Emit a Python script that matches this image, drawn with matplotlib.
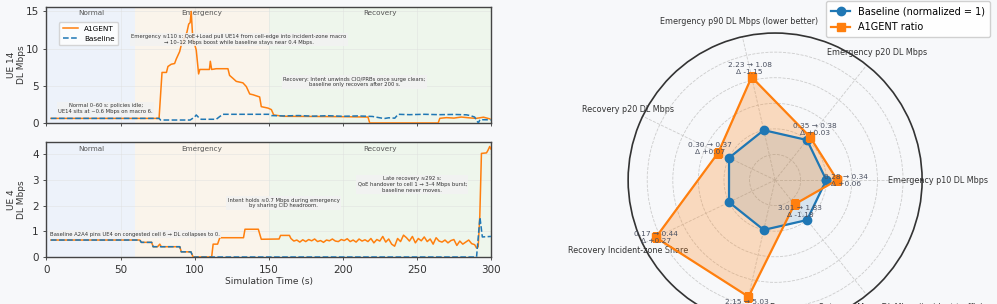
import matplotlib.pyplot as plt
import numpy as np

# ---- time series (UE 14) ----
t14_a1 = [3, 76, 78, 81, 82, 84.2, 86.5, 87.6, 89.9, 91, 92, 93.2, 94.8, 96, 97, 97.7, 98.8, 100,
          101.1, 102.7, 103.5, 110, 110.6, 111.5, 114.6, 122.5, 123.6, 125.9, 128.1, 132.6, 134.9,
          137.2, 139.4, 143.9, 145, 149.6, 151.8, 153.4, 160, 180, 200, 217, 218.2, 264.4, 265.5,
          270, 275, 280, 285, 290, 295, 299.3]
v14_a1 = [0.62, 0.62, 6.8, 6.8, 7.6, 7.9, 8.0, 8.6, 9.6, 10.5, 10.9, 11.5, 12.2, 13.3, 13.5, 15.0, 11.2, 10.6,
          9.8, 6.6, 7.2, 7.2, 8.3, 7.2, 7.3, 7.3, 6.4, 6.0, 5.6, 5.4, 4.9,
          3.9, 3.8, 3.5, 2.2, 2.0, 1.8, 1.08, 0.9, 0.88, 0.85, 0.8, 0.0, 0.0, 0.63,
          0.72, 0.66, 0.8, 0.7, 0.62, 0.78, 0.55]

t14_base = [3, 76, 77, 97, 100, 101.1, 103.4, 104.5, 114.6, 116.9, 119.1, 150, 151.8, 160, 170, 180,
            190, 200, 210, 220, 225, 228, 231, 235.1, 237.4, 245, 255, 265, 275, 283.5, 286, 289,
            291.5, 292.6, 300]
v14_base = [0.62, 0.62, 0.4, 0.4, 0.8, 1.08, 0.6, 0.5, 0.5, 0.86, 1.17, 1.17, 1.0, 0.95, 1.0, 0.92,
            0.98, 0.9, 0.95, 0.88, 0.7, 0.6, 0.7, 0.65, 1.17, 1.12, 1.17, 1.12, 1.15, 1.1, 1.0, 0.8,
            0.0, 0.45, 0.42]

# ---- time series (UE 4) ----
t4_a1 = [3, 63, 64, 71, 72, 75, 76.5, 77.5, 90, 91, 97.5, 99, 111.5, 112.5, 115.5, 117, 133, 134,
         143, 145, 157, 158, 164,
         165, 167, 169, 171, 173, 175, 177, 179, 181, 183, 185, 187, 189, 191, 193, 195, 197, 199,
         201, 203, 205, 207, 209, 211, 213, 215, 217, 219, 221, 223, 225, 227, 229, 231, 233, 235,
         237, 239, 241, 243, 245, 247, 249, 251, 253, 255, 257, 259, 261, 263, 265, 267, 269, 271,
         273, 275, 277, 279, 281, 283, 285, 287, 289,
         290.3, 291.4, 292.5, 293.6, 297, 298, 299.2, 300]
v4_a1 = [0.66, 0.66, 0.57, 0.57, 0.4, 0.4, 0.5, 0.4, 0.4, 0.2, 0.2, 0.0, 0.0, 0.5, 0.5, 0.75, 0.75, 1.08,
         1.08, 0.69, 0.7, 0.84, 0.84,
         0.72, 0.62, 0.66, 0.58, 0.67, 0.6, 0.68, 0.63, 0.7, 0.6, 0.64, 0.57, 0.66, 0.63, 0.7, 0.62, 0.6, 0.68,
         0.64, 0.71, 0.6, 0.66, 0.58, 0.7, 0.62, 0.67, 0.6, 0.72, 0.55, 0.68, 0.62, 0.8, 0.58, 0.7, 0.5, 0.42,
         0.72, 0.6, 0.85, 0.75, 0.62, 0.8, 0.55, 0.72, 0.63, 0.78, 0.6, 0.7, 0.5, 0.75, 0.62, 0.58, 0.66, 0.55,
         0.64, 0.68, 0.45, 0.62, 0.5, 0.58, 0.66, 0.52, 0.48,
         0.35, 0.4, 1.6, 4.03, 4.05, 4.15, 4.3, 4.2]

t4_base = [3, 63, 64, 71, 72, 90, 91, 97.5, 99, 290.3, 292.6, 294.2, 300]
v4_base = [0.66, 0.66, 0.57, 0.57, 0.4, 0.4, 0.2, 0.2, 0.0, 0.0, 1.54, 0.78, 0.8]

phases = ['Normal', 'Emergency', 'Recovery']
phase_bounds = [(0, 60), (60, 150), (150, 300)]
phase_colors = ['#edf2fa', '#faf4eb', '#eef6ec']

# ---- radar metrics ----
metrics = ['Emergency p10 DL Mbps', 'Emergency p20 DL Mbps',
           'Emergency p90 DL Mbps (lower better)', 'Recovery p20 DL Mbps',
           'Recovery Incident-zone Share', 'Recovery Incident-zone Mean DL Mbps',
           'Emergency Out-zone Mean DL Mbps (incident traffic)']
base_vals = [0.28, 0.35, 2.23, 0.30, 0.17, 2.15, 3.01]
a1_vals = [0.34, 0.38, 1.08, 0.37, 0.44, 5.03, 1.83]
lower_better = [False, False, True, False, False, False, False]

BG = '#f7f8fa'
C_A1 = '#ff7f0e'
C_BASE = '#1f77b4'
TXT = '#333333'

fig = plt.figure(figsize=(9.97, 3.04), dpi=100, facecolor=BG)

ax_top = fig.add_axes([0.0466, 0.5954, 0.4458, 0.3816])
ax_bot = fig.add_axes([0.0466, 0.1546, 0.4458, 0.378])

box = dict(boxstyle='square,pad=0.25', fc='#f2f2f2', ec='none', alpha=0.85)


def style_panel(ax, ymax):
    ax.set_facecolor('white')
    for (a, b), c in zip(phase_bounds, phase_colors):
        ax.axvspan(a, b, color=c, zorder=0, lw=0)
    for name, (a, b) in zip(phases, phase_bounds):
        ax.text((a + b) / 2, 0.97, name, transform=ax.get_xaxis_transform(), ha='center', va='top',
                fontsize=5.2, color='#555555')
    ax.set_xlim(0, 300)
    ax.set_ylim(0, ymax)
    ax.grid(True, color='#dddddd', lw=0.5, alpha=0.6)
    ax.set_axisbelow(True)
    for s in ax.spines.values():
        s.set_color('#444444')
        s.set_linewidth(1.0)
    ax.tick_params(labelsize=7.5, length=2, width=0.6, colors=TXT)


# top panel
style_panel(ax_top, 15.6)
ax_top.plot(t14_a1, v14_a1, color=C_A1, lw=1.1, label='A1GENT', zorder=3)
ax_top.plot(t14_base, v14_base, color=C_BASE, lw=1.1, ls='--', label='Baseline', zorder=4)
ax_top.set_xticklabels([])
ax_top.set_yticks([0, 5, 10, 15])
ax_top.set_ylabel('UE 14\nDL Mbps', fontsize=6.5, color=TXT)
ax_top.yaxis.set_label_coords(-0.045, 0.5)
ax_top.legend(loc='upper left', bbox_to_anchor=(0.02, 0.9), fontsize=5.2, frameon=True,
              facecolor='white', edgecolor='#cccccc', handlelength=2.2, borderpad=0.5)
ax_top.text(130, 11.2, 'Emergency ≈110 s: QoE+Load pull UE14 from cell-edge into incident-zone macro\n'
            '→ 10–12 Mbps boost while baseline stays near 0.4 Mbps.',
            ha='center', va='center', fontsize=3.8, color=TXT, bbox=box, zorder=5)
ax_top.text(208, 5.5, 'Recovery: Intent unwinds CIO/PRBs once surge clears;\nbaseline only recovers after 200 s.',
            ha='center', va='center', fontsize=3.8, color=TXT, bbox=box, zorder=5)
ax_top.text(40, 1.9, 'Normal 0–60 s: policies idle;\nUE14 sits at ~0.6 Mbps on macro 6.',
            ha='center', va='center', fontsize=3.8, color=TXT, bbox=box, zorder=5)

# bottom panel
style_panel(ax_bot, 4.47)
ax_bot.plot(t4_a1, v4_a1, color=C_A1, lw=1.1, zorder=3)
ax_bot.plot(t4_base, v4_base, color=C_BASE, lw=1.1, ls='--', zorder=4)
ax_bot.set_yticks([0, 1, 2, 3, 4])
ax_bot.set_xticks([0, 50, 100, 150, 200, 250, 300])
ax_bot.set_ylabel('UE 4\nDL Mbps', fontsize=6.5, color=TXT)
ax_bot.yaxis.set_label_coords(-0.045, 0.5)
ax_bot.set_xlabel('Simulation Time (s)', fontsize=6.5, color=TXT, labelpad=2)
ax_bot.text(59.5, 0.89, 'Baseline A2A4 pins UE4 on congested cell 6 → DL collapses to 0.',
            ha='center', va='center', fontsize=3.8, color=TXT, bbox=box, zorder=5)
ax_bot.text(160, 2.1, 'Intent holds ≈0.7 Mbps during emergency\nby sharing CID headroom.',
            ha='center', va='center', fontsize=3.8, color=TXT, bbox=box, zorder=5)
ax_bot.text(247, 2.83, 'Late recovery ≈292 s:\nQoE handover to cell 1 → 3–4 Mbps burst;\nbaseline never moves.',
            ha='center', va='center', fontsize=3.8, color=TXT, bbox=box, zorder=5)

# ---- radar ----
base_arr = np.array(base_vals)
a1_arr = np.array(a1_vals)
ratios = np.where(lower_better, base_arr / a1_arr, a1_arr / base_arr)
ones = np.ones(len(metrics))
angles = np.linspace(0, 2 * np.pi, len(metrics), endpoint=False)
rmax = ratios.max() * 1.11

axr = fig.add_axes([0.63, -0.0757, 0.2949, 0.967], projection='polar')
axr.set_facecolor(BG)
ang_c = np.append(angles, angles[0])
axr.plot(ang_c, np.append(ones, 1), color=C_BASE, lw=1.6, marker='o', ms=6,
         label='Baseline (normalized = 1)', zorder=4)
axr.fill(ang_c, np.append(ones, 1), color=C_BASE, alpha=0.15, zorder=2)
axr.plot(ang_c, np.append(ratios, ratios[0]), color=C_A1, lw=1.6, marker='s', ms=6,
         label='A1GENT ratio', zorder=5)
axr.fill(ang_c, np.append(ratios, ratios[0]), color=C_A1, alpha=0.25, zorder=3)
axr.set_ylim(0, rmax)
axr.set_yticks([0.5, 1.0, 1.5, 2.0, 2.5])
axr.set_yticklabels([])
axr.set_xticks(angles)
axr.set_xticklabels(metrics, fontsize=5.8, color=TXT)
axr.tick_params(axis='x', pad=1)
axr.grid(True, color='#cccccc', ls='--', lw=0.6)
axr.spines['polar'].set_color('#333333')
axr.spines['polar'].set_linewidth(1.2)
for ang, r, b, a in zip(angles, ratios, base_vals, a1_vals):
    rt = min(r + 0.17, rmax * 0.9)
    axr.text(ang, rt, f'{b:.2f} → {a:.2f}\nΔ {a - b:+.2f}', ha='center', va='center',
             fontsize=5.3, color='#4a5060', zorder=6)

fig.legend(*axr.get_legend_handles_labels(), loc='upper right', bbox_to_anchor=(0.993, 0.996),
           borderaxespad=0, fontsize=7, facecolor='white', edgecolor='#cccccc', framealpha=0.9,
           labelspacing=0.6, borderpad=0.5)

fig.savefig('out.png', dpi=100, facecolor=BG)
